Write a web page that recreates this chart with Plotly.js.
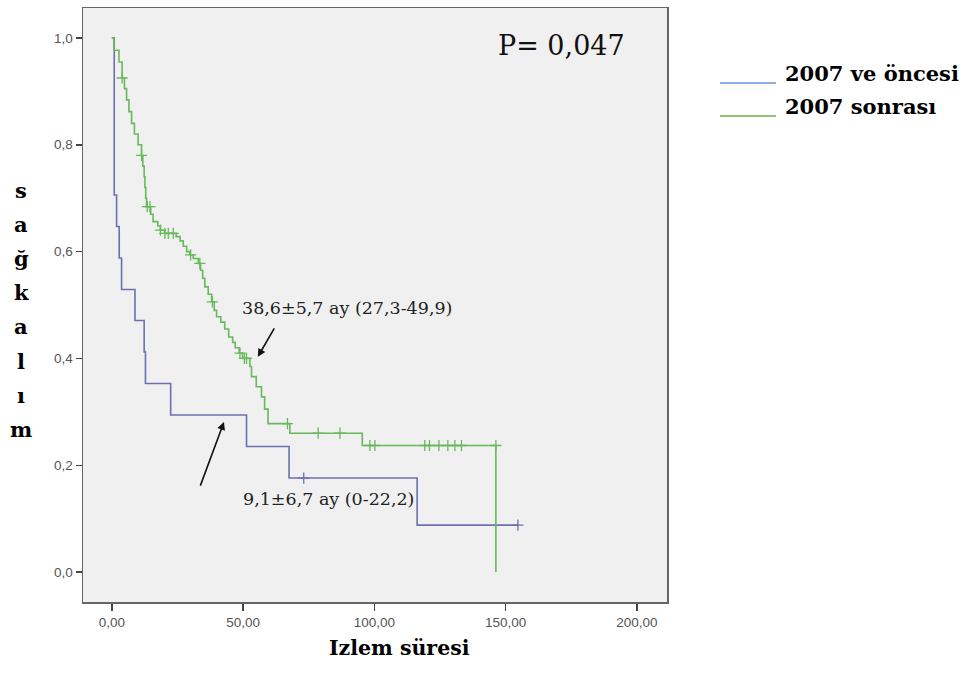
<!DOCTYPE html>
<html>
<head>
<meta charset="utf-8">
<script src="https://cdn.plot.ly/plotly-3.0.1.min.js"></script>
<style>html,body{margin:0;padding:0;background:#fff;}#chart{width:964px;height:687px;}</style>
</head>
<body>
<div id="chart"></div>
<script>
// ---- data ----
const blueName = "2007 ve öncesi";
const greenName = "2007 sonrası";
const blueT = [0, 0.9, 1.8, 2.8, 3.7, 8.8, 12.3, 12.8, 22.4, 51.3, 67.5, 116.3, 154.7];
const blueS = [1.0, 0.706, 0.647, 0.588, 0.529, 0.471, 0.412, 0.353, 0.294, 0.235, 0.176, 0.088, 0.088];
const blueCensT = [73.1, 154.7];
const blueCensS = [0.176, 0.088];

const greenT = [0, 0.8, 2.7, 3.9, 4.8, 5.6, 6.5, 7.5, 8.6, 10, 11.3, 11.8, 12.3, 12.6, 12.9, 13.2, 14.8, 15.7, 17.5, 18.5, 20.2, 24.5, 26, 27.2, 28.5, 29.7, 31, 32.9, 33.8, 34.6, 35.4, 36.7, 38, 39, 39.9, 41.5, 43, 44.5, 46, 47, 48.5, 49.8, 52.6, 53.2, 55, 57, 58.2, 59.5, 67.8, 95.4, 146.3, 146.3];
const greenS = [1.0, 0.977, 0.955, 0.925, 0.905, 0.884, 0.862, 0.84, 0.82, 0.8, 0.78, 0.76, 0.74, 0.72, 0.70, 0.684, 0.67, 0.656, 0.648, 0.64, 0.634, 0.628, 0.62, 0.61, 0.60, 0.594, 0.587, 0.578, 0.565, 0.55, 0.534, 0.52, 0.506, 0.49, 0.478, 0.468, 0.455, 0.44, 0.43, 0.42, 0.41, 0.40, 0.385, 0.366, 0.347, 0.328, 0.305, 0.278, 0.26, 0.237, 0.237, 0];
const greenCensT = [3.9, 11.3, 13.5, 14.5, 18.5, 20.2, 21.5, 23.4, 30, 33.5, 38.3, 48.8, 50.5, 51.3, 66.9, 78.6, 86.9, 98.3, 100.2, 119.2, 121, 124.6, 128, 130.7, 133.2, 146.3];
const greenCensS = [0.925, 0.78, 0.684, 0.684, 0.64, 0.634, 0.634, 0.634, 0.594, 0.578, 0.506, 0.41, 0.40, 0.40, 0.278, 0.26, 0.26, 0.237, 0.237, 0.237, 0.237, 0.237, 0.237, 0.237, 0.237, 0.237];

const xTickVals = [0, 50, 100, 150, 200];
const xTickText = ["0,00", "50,00", "100,00", "150,00", "200,00"];
const yTickVals = [0, 0.2, 0.4, 0.6, 0.8, 1.0];
const yTickText = ["0,0", "0,2", "0,4", "0,6", "0,8", "1,0"];

const pText = "P= 0,047";
const greenMedian = "38,6±5,7 ay (27,3-49,9)";
const blueMedian = "9,1±6,7 ay (0-22,2)";
const xTitle = "Izlem süresi";
const yTitleLetters = ["s", "a", "ğ", "k", "a", "l", "ı", "m"];

// ---- styles ----
const blueCol = "#6d70b0";
const greenCol = "#68b95c";
const serif = "DejaVu Serif, serif";
const sans = "Liberation Sans, Arial, sans-serif";

// plot area in pixels
const L = 83, R = 667, T = 8, B = 602;
const px = v => (v - L) / (R - L);
const py = v => (B - v) / (B - T);

const traces = [
  {x: blueT, y: blueS, mode: "lines", line: {shape: "hv", color: blueCol, width: 1.6}, showlegend: false, hoverinfo: "skip"},
  {x: greenT, y: greenS, mode: "lines", line: {shape: "hv", color: greenCol, width: 1.6}, showlegend: false, hoverinfo: "skip"},
  {x: blueCensT, y: blueCensS, mode: "markers", marker: {symbol: "cross-thin", size: 8, line: {color: blueCol, width: 1.3}}, showlegend: false, hoverinfo: "skip"},
  {x: greenCensT, y: greenCensS, mode: "markers", marker: {symbol: "cross-thin", size: 8, line: {color: greenCol, width: 1.3}}, showlegend: false, hoverinfo: "skip"}
];

const annotations = [
  {xref: "paper", yref: "paper", x: px(561), y: py(45), text: pText, showarrow: false, font: {family: serif, size: 27, color: "#111"}, xanchor: "center", yanchor: "middle"},
  {xref: "paper", yref: "paper", x: px(347), y: py(308), text: greenMedian, showarrow: false, font: {family: serif, size: 17.5, color: "#222"}, xanchor: "center", yanchor: "middle"},
  {xref: "paper", yref: "paper", x: px(328), y: py(499), text: blueMedian, showarrow: false, font: {family: serif, size: 17.5, color: "#222"}, xanchor: "center", yanchor: "middle"},
  {x: 55.6, y: 0.403, ax: 62.2, ay: 0.459, xref: "x", yref: "y", axref: "x", ayref: "y", text: "", showarrow: true, arrowhead: 2, arrowsize: 1, arrowwidth: 1.6, arrowcolor: "#111"},
  {x: 42.7, y: 0.281, ax: 33.5, ay: 0.159, xref: "x", yref: "y", axref: "x", ayref: "y", text: "", showarrow: true, arrowhead: 2, arrowsize: 1, arrowwidth: 1.6, arrowcolor: "#111"},
  {xref: "paper", yref: "paper", x: px(399), y: py(648), text: "<b>" + xTitle + "</b>", showarrow: false, font: {family: serif, size: 20.5, color: "#000"}, xanchor: "center", yanchor: "middle"},
  {xref: "paper", yref: "paper", x: px(783), y: py(73), text: "<b>" + blueName + "</b>", showarrow: false, font: {family: serif, size: 21, color: "#000"}, xanchor: "left", yanchor: "middle"},
  {xref: "paper", yref: "paper", x: px(783), y: py(106), text: "<b>" + greenName + "</b>", showarrow: false, font: {family: serif, size: 21, color: "#000"}, xanchor: "left", yanchor: "middle"}
];
yTitleLetters.forEach((ch, i) => {
  annotations.push({xref: "paper", yref: "paper", x: px(21), y: py(190 + i * 34.2), text: "<b>" + ch + "</b>", showarrow: false, font: {family: serif, size: 21, color: "#000"}, xanchor: "center", yanchor: "middle"});
});

const shapes = [
  {type: "line", xref: "paper", yref: "paper", x0: px(720), x1: px(776), y0: py(83), y1: py(83), line: {color: "#6a95d8", width: 1.5}},
  {type: "line", xref: "paper", yref: "paper", x0: px(720), x1: px(776), y0: py(116), y1: py(116), line: {color: "#72b04a", width: 1.5}}
];

const layout = {
  width: 964, height: 687,
  margin: {l: L, r: 964 - R, t: T, b: 687 - B, pad: 0},
  paper_bgcolor: "#ffffff",
  plot_bgcolor: "#f0f0f0",
  showlegend: false,
  xaxis: {
    range: [-11, 211.5], tickvals: xTickVals, ticktext: xTickText,
    ticks: "outside", ticklen: 7, tickwidth: 1.5, tickcolor: "#444",
    showgrid: false, zeroline: false, showline: true, mirror: true,
    linecolor: "#666", linewidth: 1.5,
    tickfont: {family: sans, size: 13.5, color: "#555"}
  },
  yaxis: {
    range: [-0.056, 1.056], tickvals: yTickVals, ticktext: yTickText,
    ticks: "outside", ticklen: 6, tickwidth: 1.5, tickcolor: "#444",
    showgrid: false, zeroline: false, showline: true, mirror: true,
    linecolor: "#666", linewidth: 1.5,
    tickfont: {family: sans, size: 13.5, color: "#555"}
  },
  annotations: annotations,
  shapes: shapes
};

Plotly.newPlot("chart", traces, layout, {displayModeBar: false, staticPlot: true});
</script>
</body>
</html>
